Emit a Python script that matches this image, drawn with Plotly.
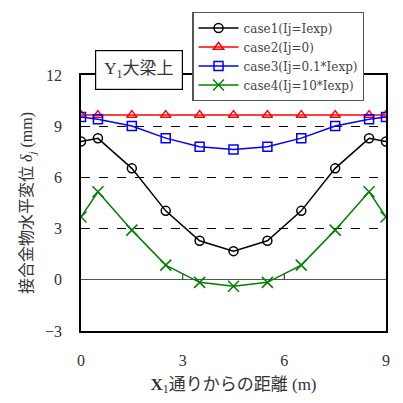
import plotly.graph_objects as go

x = [0, 0.5, 1.5, 2.5, 3.5, 4.5, 5.5, 6.5, 7.5, 8.5, 9]
case1 = [8.10, 8.29, 6.53, 4.04, 2.29, 1.68, 2.29, 4.04, 6.53, 8.29, 8.10]
case2 = [9.65] * 11
case3 = [9.54, 9.41, 9.01, 8.30, 7.79, 7.64, 7.79, 8.30, 9.01, 9.41, 9.54]
case4 = [3.68, 5.16, 2.91, 0.86, -0.15, -0.38, -0.15, 0.86, 2.91, 5.16, 3.68]
names = ["case1(Ij=Iexp)", "case2(Ij=0)", "case3(Ij=0.1*Iexp)", "case4(Ij=10*Iexp)"]
colors = ["black", "red", "blue", "green"]
symbols = ["circle-open", "triangle-up-open", "square-open", "x-thin-open"]
xticks = [0, 3, 6, 9]
yticks = [-3, 0, 3, 6, 9, 12]

FONT = "Liberation Serif, Noto Sans CJK JP, serif"

fig = go.Figure()
for ys, n, c, s in zip([case1, case2, case3, case4], names, colors, symbols):
    fig.add_trace(go.Scatter(
        x=x, y=ys, name=n, mode="lines+markers",
        line=dict(color=c, width=1.5),
        marker=dict(symbol=s, size=9 if s != "x-thin-open" else 11,
                    color=c, line=dict(color=c, width=1.5)),
    ))

# small ticks on the zero line
for t in xticks[1:-1]:
    fig.add_shape(type="line", x0=t, x1=t, y0=0, y1=0.35, xref="x", yref="y",
                  line=dict(color="#444", width=1.2))

fig.add_annotation(
    text="Y<sub>1</sub>大梁上", x=0.19, y=1.02, xref="paper", yref="paper",
    xanchor="center", yanchor="middle", showarrow=False,
    font=dict(family=FONT, size=17, color="#333"),
    bgcolor="white", bordercolor="black", borderwidth=1.2, borderpad=8,
)

fig.update_layout(
    width=403, height=403,
    margin=dict(l=81, r=17, t=71, b=70),
    paper_bgcolor="white", plot_bgcolor="white",
    font=dict(family=FONT, size=16, color="#333"),
    showlegend=True,
    legend=dict(
        x=0.365, y=1.245, xanchor="left", yanchor="top",
        bgcolor="white", bordercolor="#555", borderwidth=1.2,
        font=dict(family="DejaVu Serif, serif", size=12, color="#444"),
        itemwidth=40, tracegroupgap=0,
    ),
    xaxis=dict(
        range=[0, 9], tickvals=xticks, showgrid=False, zeroline=False,
        showline=True, mirror=True, linecolor="black", linewidth=1.5,
        ticks="", ticklabelstandoff=14,
        title=dict(text="<b>X</b><sub>1</sub>通りからの距離 (m)", standoff=10,
                   font=dict(size=17)),
    ),
    yaxis=dict(
        range=[-3, 12], tickvals=yticks, showgrid=True, gridcolor="black",
        griddash="dash", gridwidth=1,
        zeroline=True, zerolinecolor="#555", zerolinewidth=1.2,
        showline=True, mirror=True, linecolor="black", linewidth=1.5,
        ticks="", ticklabelstandoff=14,
        title=dict(text="接合金物水平変位 <i>δ<sub>j</sub></i> (mm)", standoff=8,
                   font=dict(size=16)),
    ),
)

fig.write_html("out.html")
